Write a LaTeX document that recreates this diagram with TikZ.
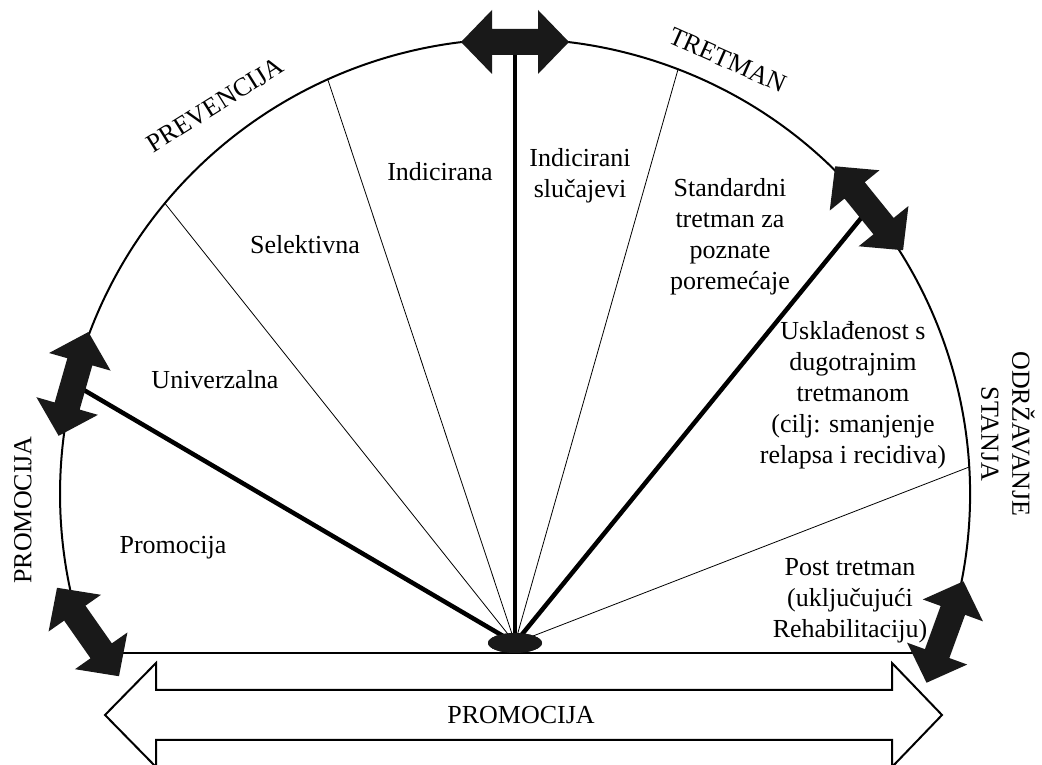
\documentclass[tikz,border=0pt]{standalone}
\usepackage{fontspec}
\setmainfont{Liberation Serif}
\usetikzlibrary{shapes.geometric}
\begin{document}
\begin{tikzpicture}[x=1pt,y=1pt,
  lbl/.style={align=center, font=\fontsize{26}{31}\selectfont, inner sep=0pt},
  thinray/.style={line width=0.8pt},
  thickray/.style={line width=4.5pt},
  outline/.style={line width=2pt},
  blk/.pic={\fill[black!90] (-54,0) -- (-23,32) -- (-23,13) -- (23,13) -- (23,32) -- (54,0) -- (23,-32) -- (23,-13) -- (-23,-13) -- (-23,-32) -- cycle;}
]
\useasboundingbox (0,0) rectangle (1042,765);
\coordinate (c) at (515,271);
\node[ellipse, fill=black!90, minimum width=54pt, minimum height=20pt, inner sep=0pt] (hub) at (515,122) {};
% circle points
\path (c) ++(140.3:455) coordinate (p1);
\path (c) ++(114.3:455) coordinate (p2);
\path (c) ++(69.0:455) coordinate (p3);
\path (c) ++(3.4:455) coordinate (p4);
\path (c) ++(166:455) coordinate (aL);
\path (c) ++(90:452) coordinate (aT);
\path (c) ++(38.9:455) coordinate (aR);
\path (c) ++(-20.45:455) coordinate (eR);
\path (c) ++(200.45:455) coordinate (eL);
% rays
\draw[thinray] (hub.center) -- (p1);
\draw[thinray] (hub.center) -- (p2);
\draw[thinray] (hub.center) -- (p3);
\draw[thinray] (hub.center) -- (p4);
\draw[thickray] (hub.center) -- (aL);
\draw[thickray] (hub.center) -- (aT);
\draw[thickray] (hub.center) -- (aR);
% outline
\draw[outline] (eR) arc[start angle=-20.45, end angle=200.45, radius=455];
\draw[outline] (eL) -- (eR);
\node[ellipse, fill=black!90, minimum width=54pt, minimum height=20pt, inner sep=0pt] at (hub) {};
% black double arrows
\pic[rotate=0] at (515,723) {blk};
\pic[rotate=-51] at (aR) {blk};
\pic[rotate=74] at (aL) {blk};
\pic[rotate=125] at (88,133) {blk};
\pic[rotate=70] at (945,133) {blk};
% hollow arrow
\draw[line width=2pt, fill=white] (105,50) -- (156,102) -- (156,75) -- (892,75) -- (892,102) -- (942,50) -- (892,-2) -- (892,25) -- (156,25) -- (156,-2) -- cycle;
\node[lbl] (promB) at (521,50) {PROMOCIJA};
% labels
\node[lbl] (t1) at (173,217) {Promocija};
\node[lbl] (t2) at (215,385) {Univerzalna};
\node[lbl] (t3) at (305,520) {Selektivna};
\node[lbl] (t4) at (440,593) {Indicirana};
\node[lbl] (t5) at (580,589) {Indicirani\\slučajevi};
\node[lbl] (t6) at (730,528) {Standardni\\tretman za\\poznate\\poremećaje};
\node[lbl] (t7) at (853,370) {Usklađenost s\\dugotrajnim\\tretmanom\\(cilj: smanjenje\\relapsa i recidiva)};
\node[lbl] (t8) at (850,164) {Post tretman\\(uključujući\\Rehabilitaciju)};
\node[lbl, rotate=32] (g1) at (215,660) {PREVENCIJA};
\node[lbl, rotate=-24] (g2) at (728,705) {TRETMAN};
\node[lbl, rotate=90] (g3) at (23,255) {PROMOCIJA};
\node[lbl, rotate=-90] (g4) at (1008,331) {ODRŽAVANJE\\STANJA};
\end{tikzpicture}
\end{document}
